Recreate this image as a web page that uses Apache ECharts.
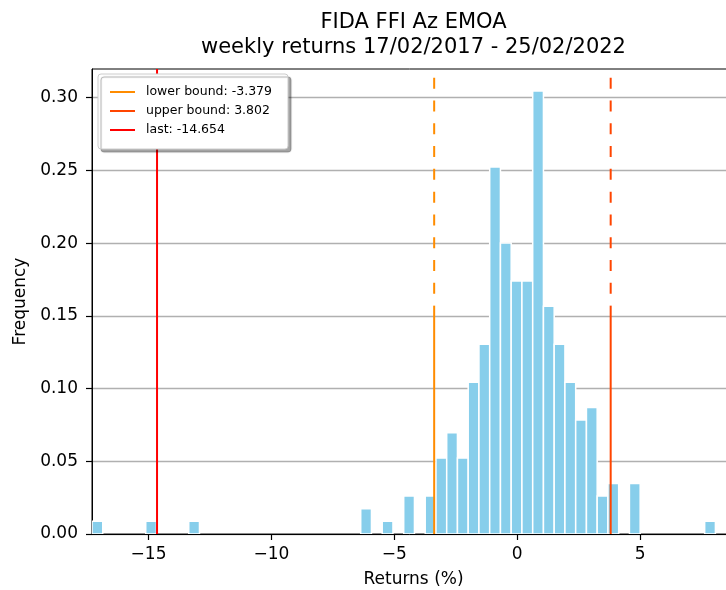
<!DOCTYPE html>
<html><head><meta charset="utf-8">
<script src="https://cdn.jsdelivr.net/npm/echarts@6/dist/echarts.min.js"></script>
<style>html,body{margin:0;padding:0;background:#fff}#c{width:726px;height:590px}</style>
</head><body><div id="c"></div>
<script>
// ---- data ----
const titleLines = ['FIDA FFI Az EMOA', 'weekly returns 17/02/2017 - 25/02/2022'];
const xAxisName = 'Returns (%)';
const yAxisName = 'Frequency';
const binStart = -17.30;
const binWidth = 0.4373;
const freq = [
  0.0087, 0, 0, 0, 0,
  0.0087, 0, 0, 0, 0.0087,
  0, 0, 0, 0, 0,
  0, 0, 0, 0, 0,
  0, 0, 0, 0, 0,
  0.0174, 0, 0.0087, 0, 0.0261,
  0, 0.0261, 0.0522, 0.0696, 0.0522,
  0.1044, 0.1305, 0.2523, 0.2001, 0.1740,
  0.1740, 0.3045, 0.1566, 0.1305, 0.1044,
  0.0783, 0.0870, 0.0261, 0.0348, 0,
  0.0348, 0, 0, 0, 0,
  0, 0, 0.0087
];
const xTicks = [-15, -10, -5, 0, 5];
const yTicks = [0, 0.05, 0.10, 0.15, 0.20, 0.25, 0.30];
const lowerBound = -3.379;
const upperBound = 3.802;
const lastValue = -14.654;
const boundSolidTop = 0.157;
const xRange = [-17.30, 8.86];
const yRange = [0, 0.3197];

// ---- build ----
const FONT = 'DejaVu Sans';
const lowerName = 'lower bound: ' + lowerBound;
const upperName = 'upper bound: ' + upperBound;
const lastName = 'last: ' + lastValue;

const histData = [];
freq.forEach((f, i) => {
  if (f > 0) histData.push([binStart + i * binWidth, binStart + (i + 1) * binWidth, f]);
});

const dashStyle = { type: [11, 11.8], dashOffset: 11 };

const chart = echarts.init(document.getElementById('c'));
chart.setOption({
  animation: false,
  backgroundColor: '#fff',
  graphic: [
    { type: 'text', x: 413.5, y: 22.5, style: { text: titleLines[0], textAlign: 'center', textVerticalAlign: 'middle', font: '21px "DejaVu Sans"', fill: '#000' } },
    { type: 'text', x: 413.5, y: 48, style: { text: titleLines[1], textAlign: 'center', textVerticalAlign: 'middle', font: '21px "DejaVu Sans"', fill: '#000' } }
  ],
  grid: { left: 92, top: 69, right: -9, bottom: 56, show: true, borderColor: '#000', borderWidth: 1,
    containLabel: false, outerBoundsMode: 'none' },
  legend: {
    orient: 'vertical', left: 98, top: 74, z: 10,
    data: [lowerName, upperName, lastName],
    icon: 'rect', itemWidth: 25, itemHeight: 2, itemGap: 5,
    padding: [11, 16, 12, 12],
    backgroundColor: '#fff', borderColor: '#cccccc', borderWidth: 1, borderRadius: 3,
    shadowColor: 'rgba(0,0,0,0.35)', shadowBlur: 1, shadowOffsetX: 3, shadowOffsetY: 3,
    selectedMode: false,
    textStyle: { fontFamily: FONT, fontSize: 12.5, color: '#000', lineHeight: 14, padding: [0, 0, 0, 6] }
  },
  xAxis: {
    type: 'value', min: xRange[0], max: xRange[1],
    name: xAxisName, nameLocation: 'middle', nameGap: 37,
    nameTextStyle: { fontFamily: FONT, fontSize: 17, color: '#000', lineHeight: 17 },
    axisLine: { show: true, onZero: false, lineStyle: { color: '#000', width: 1 } },
    axisTick: { show: true, customValues: xTicks, length: 6, lineStyle: { color: '#000', width: 1.2 } },
    axisLabel: { customValues: xTicks, margin: 12, fontFamily: FONT, fontSize: 17, color: '#000',
      formatter: v => String(v).replace('-', '\u2212') },
    splitLine: { show: false }
  },
  yAxis: {
    type: 'value', min: yRange[0], max: yRange[1], interval: 0.05,
    name: yAxisName, nameLocation: 'middle', nameGap: 61, nameRotate: 90,
    nameTextStyle: { fontFamily: FONT, fontSize: 17, color: '#000', lineHeight: 17 },
    axisLine: { show: true, onZero: false, lineStyle: { color: '#000', width: 1 } },
    axisTick: { show: true, customValues: yTicks, length: 6, lineStyle: { color: '#000', width: 1.2 } },
    axisLabel: { customValues: yTicks, margin: 14, fontFamily: FONT, fontSize: 17, color: '#000',
      formatter: v => v.toFixed(2) },
    splitLine: { show: true, lineStyle: { color: '#b0b0b0', width: 1.3 } }
  },
  series: [
    {
      type: 'custom', name: 'hist', clip: true,
      encode: { x: [0, 1], y: 2 },
      data: histData,
      renderItem: function (params, api) {
        const p0 = api.coord([api.value(0), api.value(2)]);
        const p1 = api.coord([api.value(1), 0]);
        return { type: 'rect', shape: { x: p0[0], y: p0[1], width: p1[0] - p0[0], height: p1[1] - p0[1] },
          style: { fill: '#87CEEB', stroke: '#fff', lineWidth: 1.5 } };
      }
    },
    { type: 'line', name: lowerName, symbol: 'none', color: '#FF8C00', clip: true,
      lineStyle: { color: '#FF8C00', width: 2 },
      data: [[lowerBound, 0], [lowerBound, boundSolidTop]] },
    { type: 'line', name: lowerName, symbol: 'none', color: '#FF8C00', clip: true,
      lineStyle: Object.assign({ color: '#FF8C00', width: 2 }, dashStyle),
      data: [[lowerBound, boundSolidTop], [lowerBound, yRange[1]]] },
    { type: 'line', name: upperName, symbol: 'none', color: '#FF4500', clip: true,
      lineStyle: { color: '#FF4500', width: 2 },
      data: [[upperBound, 0], [upperBound, boundSolidTop]] },
    { type: 'line', name: upperName, symbol: 'none', color: '#FF4500', clip: true,
      lineStyle: Object.assign({ color: '#FF4500', width: 2 }, dashStyle),
      data: [[upperBound, boundSolidTop], [upperBound, yRange[1]]] },
    { type: 'line', name: lastName, symbol: 'none', color: '#FF0000', clip: true,
      lineStyle: { color: '#FF0000', width: 2 },
      data: [[lastValue, 0], [lastValue, yRange[1]]] }
  ]
});
</script>
</body></html>
